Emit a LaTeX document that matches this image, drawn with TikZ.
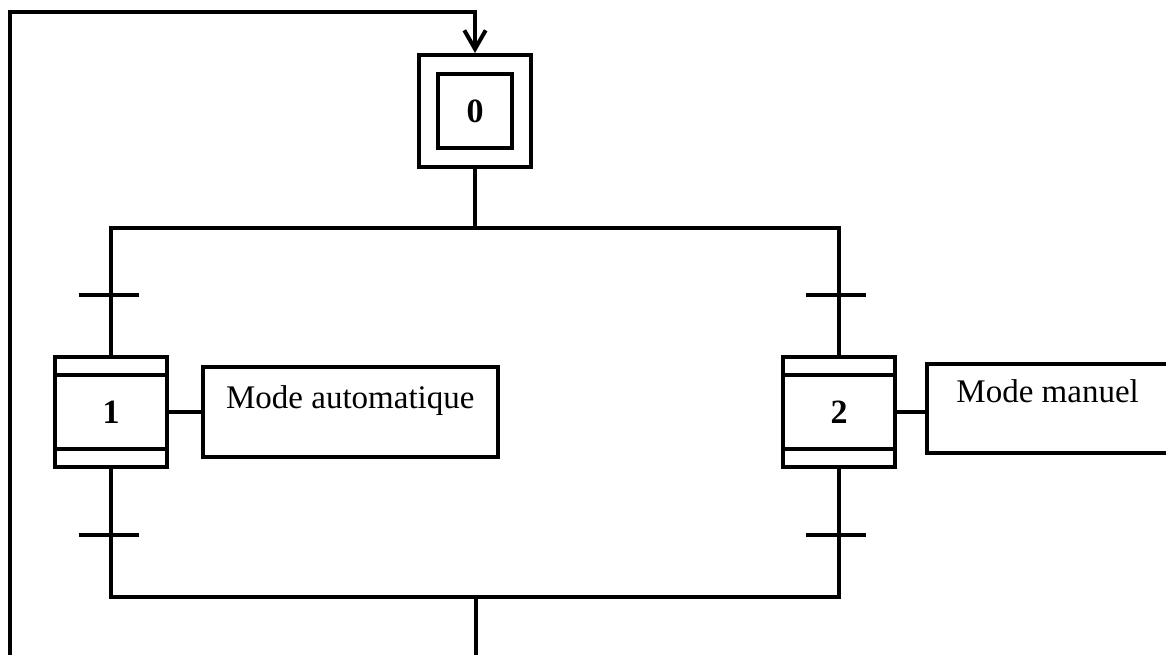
\documentclass[tikz,border=0pt]{standalone}
\usepackage{fontspec}
\setmainfont{Liberation Serif}
\usetikzlibrary{positioning,arrows.meta}

\begin{document}
\begin{tikzpicture}[x=0.75pt, y=-0.75pt, line width=3pt,
  every node/.style={font=\fontsize{24.75}{30}\selectfont},
  etape/.style={draw, inner sep=0pt, font=\fontsize{25.5}{30}\selectfont\bfseries},
  macro/.style={etape, minimum width=84pt, minimum height=82.5pt,
    path picture={
      \draw ([yshift=-13.5pt]path picture bounding box.north west) -- ([yshift=-13.5pt]path picture bounding box.north east);
      \draw ([yshift=13.5pt]path picture bounding box.south west) -- ([yshift=13.5pt]path picture bounding box.south east);}},
  action/.style={draw, inner sep=0pt},
  fleche/.style={-{Straight Barb[length=14pt,width=16pt]}}]
  \useasboundingbox (0,0) rectangle (1166,655);

  % L'etape initiale
  \node[etape, minimum size=55pt] (E0in) at (475,111) {0};
  \node[draw, minimum size=84pt] (E0) at (E0in) {};

  % Les etapes 1 et 2
  \node[macro] (E1) at (111,412) {1};
  \node[macro] (E2) at (839,412) {2};

  % Les actions
  \node[action, right=24pt of E1, minimum width=221pt,
        text height=30.75pt, text depth=36pt] (A1) {Mode automatique};
  \node[action, right=21pt of E2, yshift=2.6pt, minimum width=181pt,
        text height=28.5pt, text depth=38.25pt] (A2) {Mode manuel};
  \draw (E1) -- (A1);
  \draw (E2) -- (E2 -| A2.west);

  % Les liaisons
  \coordinate (d1) at (111,228);
  \coordinate (d2) at (839,228);
  \coordinate (c1) at (111,597);
  \coordinate (c2) at (839,597);
  \coordinate (c0) at (476,597);
  \coordinate (bas) at (476,660);
  \coordinate (g1) at (10,660);
  \coordinate (g2) at (10,12);
  \coordinate (h) at (475,12);

  \draw (E0) -- (E0 |- d1);
  \draw (E1) -- (d1) -- (d2) -- (E2);
  \draw (E1) -- (c1) -- (c2) -- (E2);
  \draw (c0) -- (bas);
  \draw[fleche] (g1) -- (g2) -- (h) -- (E0);

  % Les transitions
  \foreach \t/\x/\y in {t1/109/295, t2/109/535, t3/836/295, t4/836/535} {
    \coordinate (\t) at (\x,\y);
    \draw ([xshift=-22.5pt]\t) -- ([xshift=22.5pt]\t);
  }
\end{tikzpicture}
\end{document}
